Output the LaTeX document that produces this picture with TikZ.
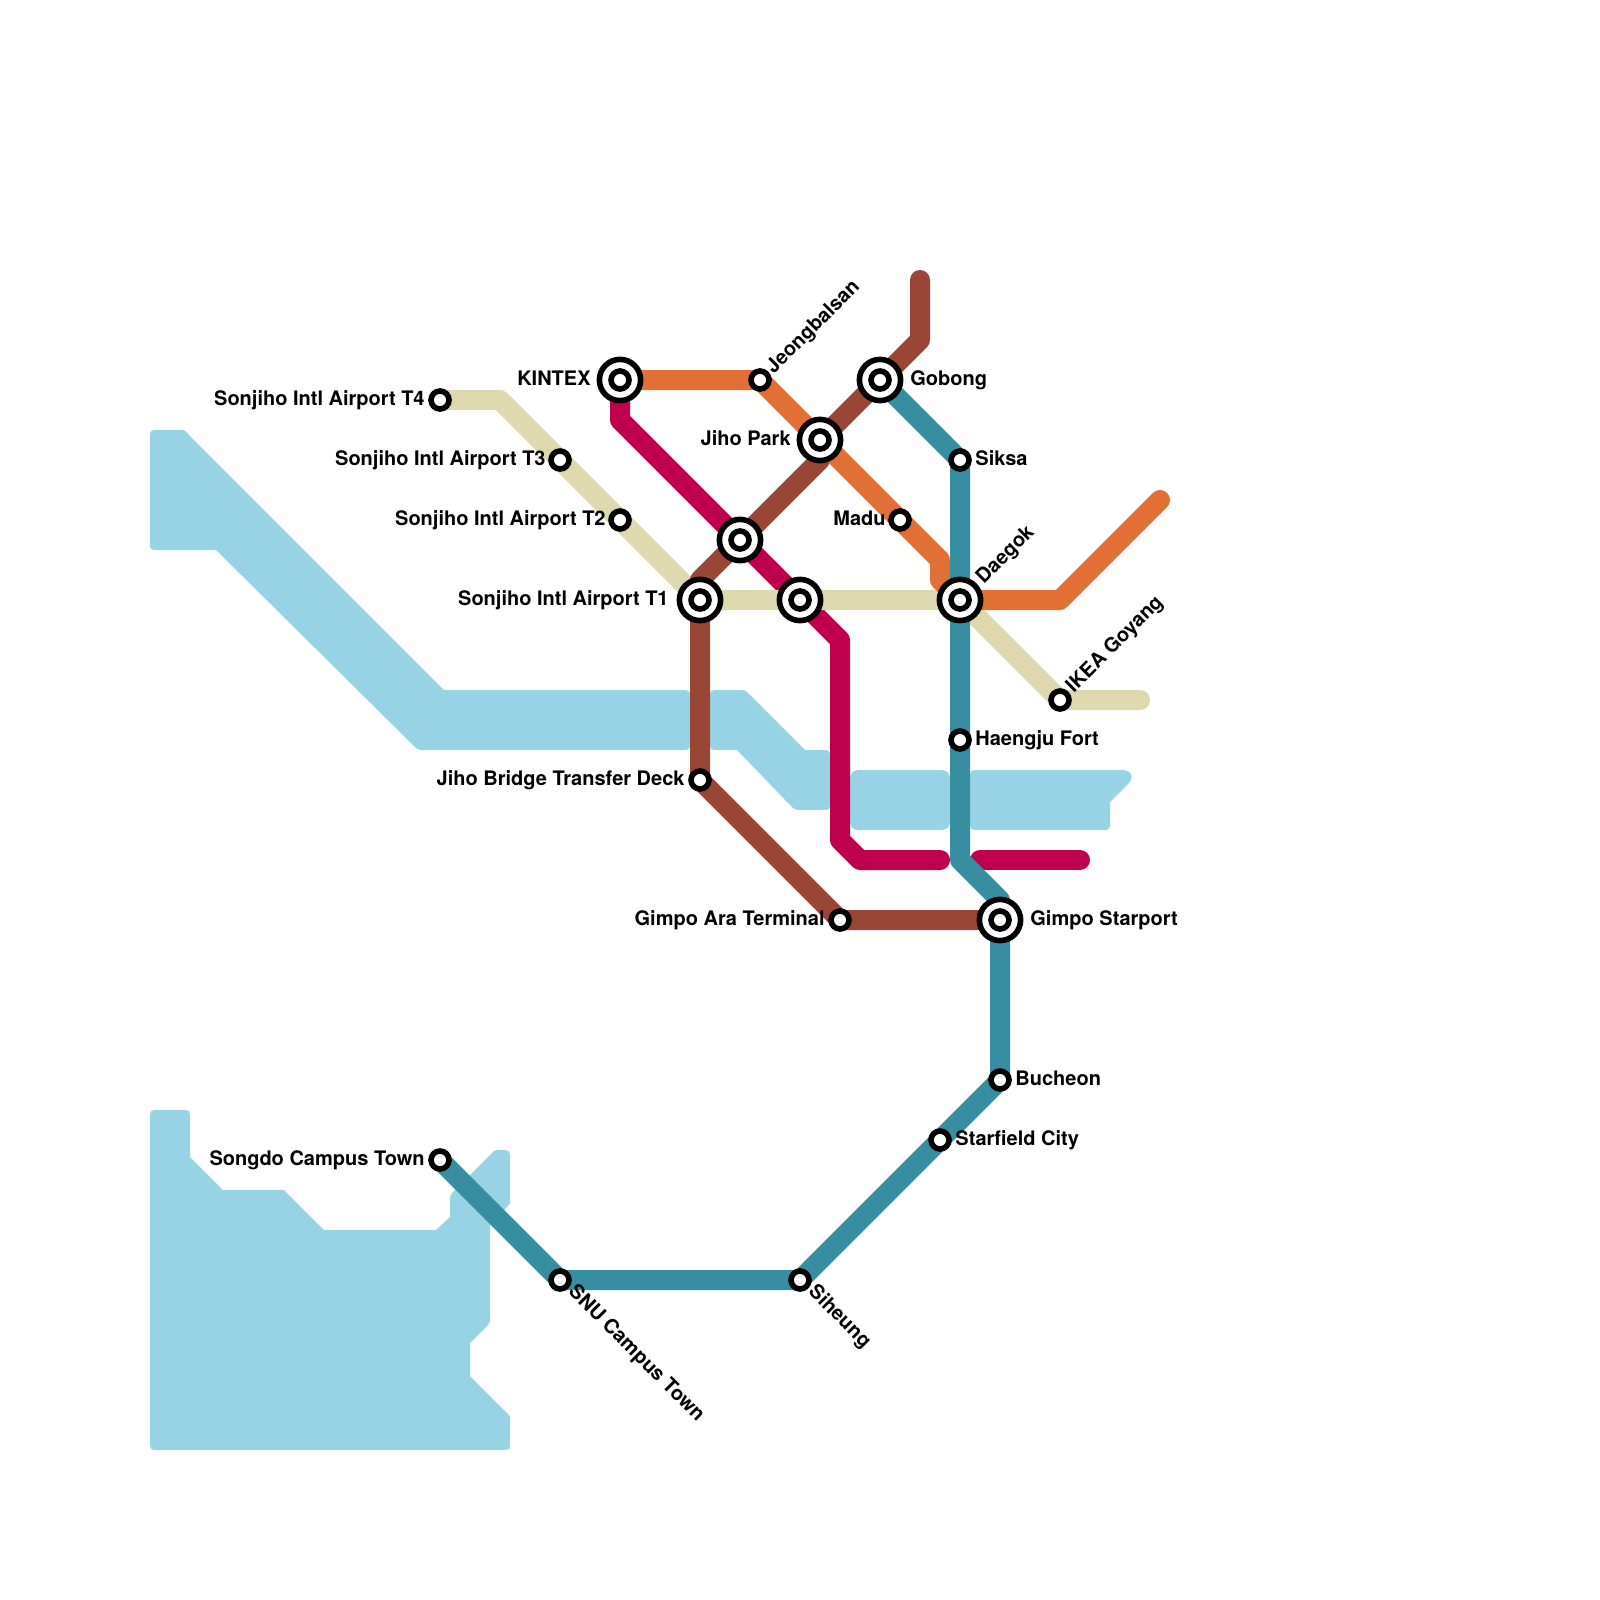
\documentclass[tikz,border=0pt]{standalone}
\usepackage{fontspec}
\setmainfont{TeX Gyre Heros}
\definecolor{water}{HTML}{97D2E5}
\definecolor{cbrown}{HTML}{994636}
\definecolor{cmag}{HTML}{BE004D}
\definecolor{cteal}{HTML}{378EA0}
\definecolor{corange}{HTML}{E26F35}
\definecolor{ckhaki}{HTML}{DDD8AE}
\pgfdeclarelayer{bg}
\pgfsetlayers{bg,main}
\tikzset{
  waterbody/.style={fill=water,draw=none},
  metro/.style={line width=10pt,line cap=round,line join=round},
  stn/.style={circle,draw=black,fill=white,line width=2.8pt,minimum size=9pt,inner sep=0pt},
  hub/.style={circle,draw=black,fill=white,line width=2.8pt,minimum size=20.6pt,inner sep=0pt},
  lbl/.style={font=\bfseries\fontsize{10pt}{12pt}\selectfont,inner sep=0pt,text height=0.72em,text depth=0.2em,text=black},
  lw/.style={lbl,anchor=west},
  le/.style={lbl,anchor=east},
  lup/.style={lbl,anchor=west,rotate=45},
  ldn/.style={lbl,anchor=west,rotate=-45}
}
\newcommand{\hubstn}[2]{\node[hub] (#1) at (#2) {}; \node[stn] (#1in) at (#2) {};}
\begin{document}
\begin{tikzpicture}[x=0.5pt,y=-0.5pt]
\useasboundingbox (0,0) rectangle (1600,1600);
% stations
\node[stn] (t4) at (440,400) {};
\node[stn] (t3) at (560,460) {};
\node[stn] (t2) at (620,520) {};
\hubstn{t1}{700,600}
\hubstn{kintex}{620,380}
\node[stn] (jeong) at (760,380) {};
\hubstn{jihopark}{820,440}
\hubstn{gobong}{880,380}
\node[stn] (siksa) at (960,460) {};
\node[stn] (madu) at (900,520) {};
\hubstn{xa}{740,540}
\hubstn{xb}{800,600}
\hubstn{daegok}{960,600}
\node[stn] (ikea) at (1060,700) {};
\node[stn] (haengju) at (960,740) {};
\node[stn] (bridge) at (700,780) {};
\node[stn] (ara) at (840,920) {};
\hubstn{gimpo}{1000,920}
\node[stn] (bucheon) at (1000,1080) {};
\node[stn] (starfield) at (940,1140) {};
\node[stn] (songdo) at (440,1160) {};
\node[stn] (snu) at (560,1280) {};
\node[stn] (siheung) at (800,1280) {};
% bends and free ends
\coordinate (k1) at (500,400);
\coordinate (k2) at (1140,700);
\coordinate (o1) at (940,560);
\coordinate (o2) at (940,580);
\coordinate (o3) at (1060,600);
\coordinate (o4) at (1160,500);
\coordinate (m1) at (620,420);
\coordinate (m2) at (840,640);
\coordinate (m3) at (840,840);
\coordinate (m4) at (860,860);
\coordinate (m5) at (940,860);
\coordinate (m6) at (980,860);
\coordinate (m7) at (1080,860);
\coordinate (b1) at (920,280);
\coordinate (b2) at (920,340);
\coordinate (b4) at (820,460);
\coordinate (b5) at (700,580);
\coordinate (c1) at (960,860);
\coordinate (c2) at (1000,900);
% labels
\node[le] (lt4) at (425,400) {Sonjiho Intl Airport T4};
\node[le] (lt3) at (546,460) {Sonjiho Intl Airport T3};
\node[le] (lt2) at (606,520) {Sonjiho Intl Airport T2};
\node[le] (lt1) at (669,600) {Sonjiho Intl Airport T1};
\node[le] (lkintex) at (591,380) {KINTEX};
\node[le] (ljiho) at (791,440) {Jiho Park};
\node[le] (lmadu) at (886,520) {Madu};
\node[le] (lbridge) at (685,780) {Jiho Bridge Transfer Deck};
\node[le] (lara) at (825,920) {Gimpo Ara Terminal};
\node[le] (lsongdo) at (425,1160) {Songdo Campus Town};
\node[lw] (lgobong) at (910,380) {Gobong};
\node[lw] (lsiksa) at (975,460) {Siksa};
\node[lw] (lhaengju) at (975,740) {Haengju Fort};
\node[lw] (lgimpo) at (1030,920) {Gimpo Starport};
\node[lw] (lbucheon) at (1015,1080) {Bucheon};
\node[lw] (lstar) at (955,1140) {Starfield City};
\node[lup] (ljeong) at (770,371) {Jeongbalsan};
\node[lup] (ldaegok) at (980,581) {Daegok};
\node[lup] (likea) at (1070,690) {IKEA Goyang};
\node[ldn] (lsnu) at (571,1289) {SNU Campus Town};
\node[ldn] (lsiheung) at (811,1289) {Siheung};
\begin{pgfonlayer}{bg}
% water
\fill[waterbody] (150,439) .. controls (150,430) .. (159,430) -- (178,430) .. controls (185,430) .. (189,435) -- (444,690) -- (681,690) .. controls (690,690) .. (690,699) -- (690,741) .. controls (690,750) .. (681,750) -- (426,750) .. controls (418,750) .. (413,745) -- (216,550) -- (159,550) .. controls (150,550) .. (150,541) -- cycle;
\fill[waterbody] (710,699) .. controls (710,690) .. (719,690) -- (739,690) .. controls (745,690) .. (749,694) -- (805,750) -- (821,750) .. controls (830,750) .. (830,759) -- (830,801) .. controls (830,810) .. (821,810) -- (802,810) .. controls (795,810) .. (791,806) -- (737,750) -- (719,750) .. controls (710,750) .. (710,741) -- cycle;
\fill[waterbody,rounded corners=4pt] (850,770) -- (950,770) -- (950,830) -- (850,830) -- cycle;
\fill[waterbody] (979,770) -- (1122,770) .. controls (1132,770) and (1134,778) .. (1128,784) -- (1110,802) -- (1110,821) .. controls (1110,830) .. (1101,830) -- (979,830) .. controls (970,830) .. (970,821) -- (970,779) .. controls (970,770) .. cycle;
\fill[waterbody] (150,1119) .. controls (150,1110) .. (159,1110) -- (181,1110) .. controls (190,1110) .. (190,1119) -- (190,1157) -- (223,1190) -- (284,1190) -- (324,1230) -- (436,1230) -- (450,1217) -- (450,1201) .. controls (450,1196) .. (453,1192) -- (492,1153) .. controls (495,1150) .. (500,1150) .. controls (510,1150) .. (510,1160) -- (510,1199) .. controls (510,1204) .. (507,1207) -- (490,1224) -- (490,1319) .. controls (490,1322) .. (488,1325) -- (470,1343) -- (470,1376) -- (507,1413) .. controls (510,1416) .. (510,1420) -- (510,1441) .. controls (510,1450) .. (501,1450) -- (159,1450) .. controls (150,1450) .. (150,1441) -- cycle;
% lines
\draw[metro,cmag] (kintex.center) -- (m1) -- (xa.center) -- (xb.center) -- (m2) -- (m3) -- (m4) -- (m5);
\draw[metro,cmag] (m6) -- (m7);
\draw[metro,ckhaki] (t4.center) -- (k1) -- (t3.center) -- (t2.center) -- (t1.center) -- (xb.center) -- (daegok.center) -- (ikea.center) -- (k2);
\draw[metro,cbrown] (b1) -- (b2) -- (gobong.center) -- (jihopark.center) -- (b4) -- (xa.center) -- (b5) -- (t1.center) -- (bridge.center) -- (ara.center) -- (gimpo.center);
\draw[metro,corange] (kintex.center) -- (jeong.center) -- (jihopark.center) -- (madu.center) -- (o1) -- (o2) -- (daegok.center) -- (o3) -- (o4);
\draw[metro,cteal] (gobong.center) -- (siksa.center) -- (daegok.center) -- (haengju.center) -- (c1) -- (c2) -- (gimpo.center) -- (bucheon.center) -- (starfield.center) -- (siheung.center) -- (snu.center) -- (songdo.center);
\end{pgfonlayer}
\end{tikzpicture}
\end{document}
